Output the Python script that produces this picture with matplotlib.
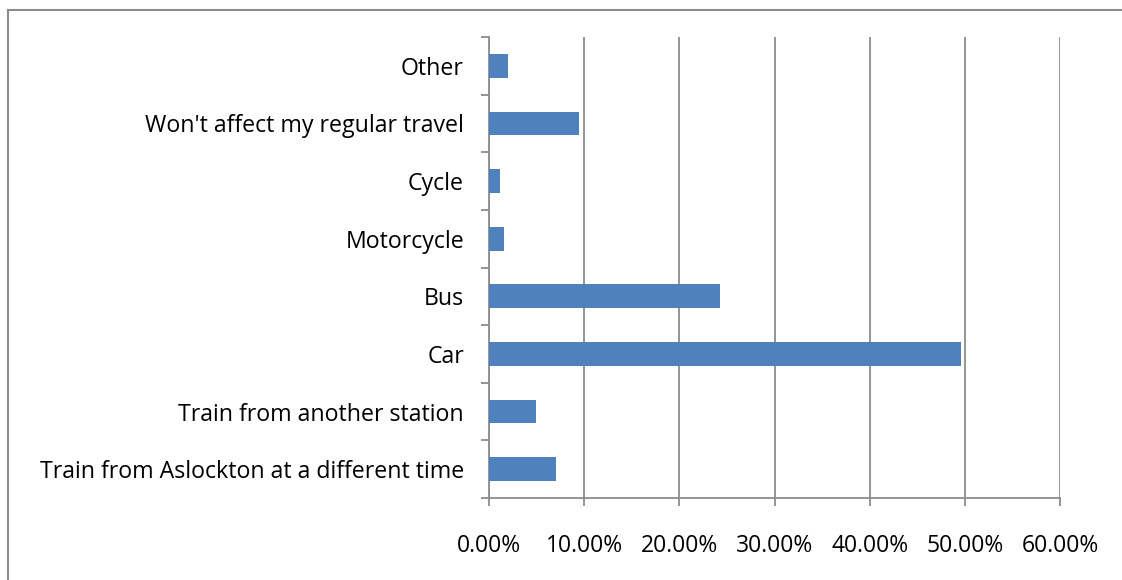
import matplotlib
matplotlib.use("Agg")
import matplotlib.pyplot as plt
from matplotlib.patches import Rectangle
from matplotlib.ticker import FuncFormatter, FixedLocator

categories = [
    "Train from Aslockton at a different time",
    "Train from another station",
    "Car",
    "Bus",
    "Motorcycle",
    "Cycle",
    "Won't affect my regular travel",
    "Other",
]
shares = [7.0, 4.9, 49.6, 24.3, 1.6, 1.2, 9.5, 2.0]
x_ticks = [0, 10, 20, 30, 40, 50, 60]

plt.rcParams["font.family"] = ["Open Sans", "DejaVu Sans"]

fig = plt.figure(figsize=(11.22, 5.8), dpi=100)
# outer chart border (only top and left edges are visible in the picture)
fig.patches.append(Rectangle((8 / 1122, -0.1), 1.2, 1.1 - 10 / 580,
                             transform=fig.transFigure, fill=False,
                             edgecolor="#8c8c8c", linewidth=1.5))
ax = fig.add_axes([489 / 1122, 1 - 498 / 580, (1060 - 489) / 1122, (498 - 37) / 580])

y = range(len(categories))
ax.barh(y, shares, height=0.41, color="#4f81bd", zorder=3)

ax.set_xlim(0, 60)
ax.set_ylim(-0.5, len(categories) - 0.5)
ax.xaxis.set_major_locator(FixedLocator(x_ticks))
ax.xaxis.set_major_formatter(FuncFormatter(lambda v, p: "%.2f%%" % v))
ax.set_yticks(list(y))
ax.set_yticklabels(categories)
ax.set_yticks([i - 0.5 for i in range(len(categories) + 1)], minor=True)

ax.grid(axis="x", color="#8c8c8c", linewidth=1.3, zorder=0)
for side in ["top", "right"]:
    ax.spines[side].set_visible(False)
for side in ["left", "bottom"]:
    ax.spines[side].set_color("#8c8c8c")
    ax.spines[side].set_linewidth(1.3)

ax.tick_params(axis="y", which="major", length=0, pad=18, labelsize=16.7)
ax.tick_params(axis="y", which="minor", length=6, width=1.3, color="#8c8c8c")
ax.tick_params(axis="x", length=6, width=1.3, color="#8c8c8c", pad=20, labelsize=16.5)

fig.savefig("out.png", dpi=100)
